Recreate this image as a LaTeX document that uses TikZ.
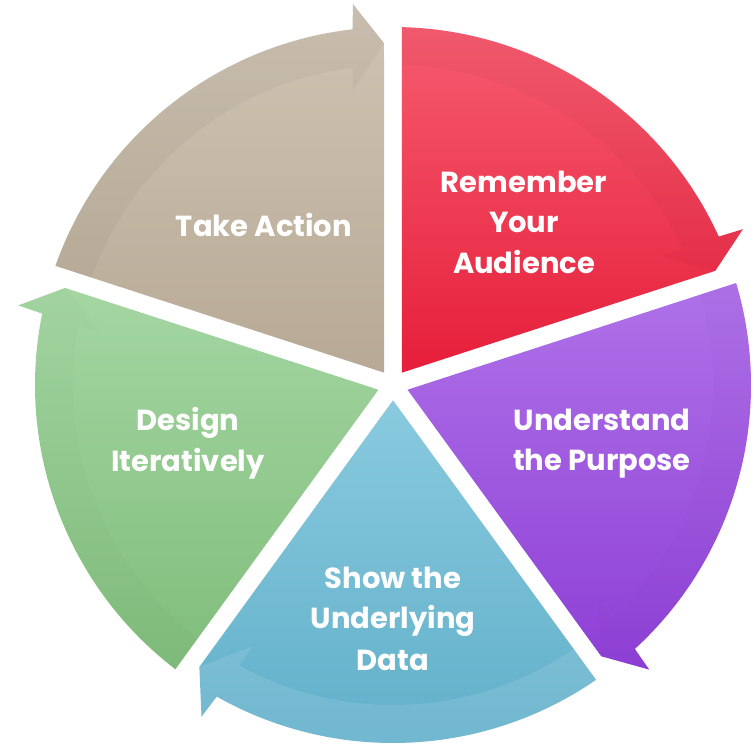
\documentclass[tikz,border=0pt]{standalone}
\usepackage{fontspec}
\setmainfont{Poppins}
\usetikzlibrary{calc}

\definecolor{tanTop}{HTML}{CFC4B4}
\definecolor{tanBot}{HTML}{B7A995}
\definecolor{redTop}{HTML}{F65C70}
\definecolor{redBot}{HTML}{E61E3A}
\definecolor{purTop}{HTML}{AF72E8}
\definecolor{purBot}{HTML}{8E3FD6}
\definecolor{bluTop}{HTML}{89CADE}
\definecolor{bluBot}{HTML}{5FAEC9}
\definecolor{grnTop}{HTML}{A4D6A2}
\definecolor{grnBot}{HTML}{80BD7B}

% One segment of the cycle: #1 = counter-clockwise edge angle,
% #2/#3 = top/bottom colours, #4/#5 = tint of the outer arrow band and its opacity
\newcommand\petal[5]{%
  \pgfmathsetmacro\pA{#1-1.44}%
  \pgfmathsetmacro\pAi{#1-1.61}%
  \pgfmathsetmacro\pB{#1-72}%
  \pgfmathsetmacro\pM{#1-36}%
  \pgfmathsetmacro\pBack{\pB+6.5}%
  \pgfmathsetmacro\pBarb{\pB+6}%
  \pgfmathsetmacro\pTip{\pB+1.51}%
  \pgfmathsetmacro\pIn{\pB+7.7}%
  \pgfmathsetmacro\pInb{\pB+7.25}%
  \shade[top color=#2, bottom color=#3]
    ($(C)+(\pM:15.3)$) -- ($(C)+(\pA:358)$)
    arc[start angle=\pA, end angle=\pBack, radius=358]
    -- ($(C)+(\pBarb:383)$) -- ($(C)+(\pTip:342)$) -- cycle;
  \fill[#4, opacity=#5]
    ($(C)+(\pAi:320)$) -- ($(C)+(\pA:358)$)
    arc[start angle=\pA, end angle=\pBack, radius=358]
    -- ($(C)+(\pBarb:383)$) -- ($(C)+(\pTip:342)$)
    -- ($(C)+(\pIn:297)$) -- ($(C)+(\pInb:320)$)
    arc[start angle=\pInb, end angle=\pAi, radius=320] -- cycle;
}

\begin{document}
\begin{tikzpicture}[x=1pt,y=1pt,
  lbl/.style={text=white, font=\fontsize{29}{40}\selectfont\bfseries,
              inner sep=0pt, anchor=base}]
\useasboundingbox (0,0) rectangle (754,748);
\coordinate (C) at (393,363);

% segments, clockwise from the top
\petal{162}{tanTop}{tanBot}{black}{0.03}
\petal{90}{redTop}{redBot}{black}{0.025}
\petal{18}{purTop}{purBot}{black}{0.012}
\petal{-54}{bluTop}{bluBot}{white}{0.1}
\petal{-126}{grnTop}{grnBot}{black}{0.01}

% labels
\node[lbl] (take) at (264,511) {Take Action};

\node[lbl] (rem1) at (524,555) {Remember};
\node[lbl] (rem2) at (524,515) {Your};
\node[lbl] (rem3) at (524,475) {Audience};

\node[lbl] (und1) at (602,318) {Understand};
\node[lbl] (und2) at (602,278) {the Purpose};

\node[lbl] (show1) at (393,160) {Show the};
\node[lbl] (show2) at (393,120) {Underlying};
\node[lbl] (show3) at (393,78) {Data};

\node[lbl] (des1) at (188,318) {Design};
\node[lbl] (des2) at (188,277) {Iteratively};
\end{tikzpicture}
\end{document}
